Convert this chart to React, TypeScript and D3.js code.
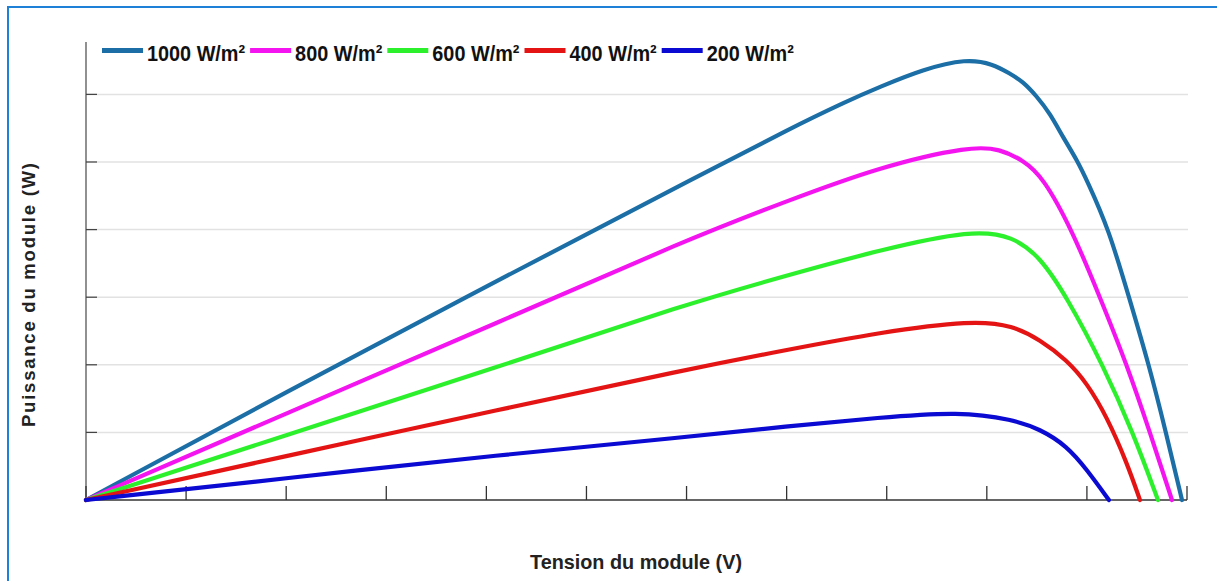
import React from "react";
import * as d3 from "d3";

// Irradiance levels shown in the legend
const irradianceLabels = ["1000 W/m²", "800 W/m²", "600 W/m²", "400 W/m²", "200 W/m²"];
const seriesColors = ["#1b6fa6", "#f414f0", "#2cf02c", "#e41414", "#0a0ad2"];

// Module voltage (V) and power (W) samples for each irradiance level
const voltage1000 = [0, 2.0, 4.14, 6.26, 7.0, 7.6, 7.93, 8.36, 8.8, 9.06, 9.23, 9.36, 9.5, 9.63, 9.76, 9.9, 10.0, 10.22, 10.42, 10.62, 10.79, 10.95];
const power1000 = [0, 1.6, 3.27, 4.9, 5.47, 5.9, 6.11, 6.37, 6.53, 6.45, 6.31, 6.19, 5.97, 5.72, 5.37, 5.03, 4.73, 4.0, 3.0, 2.0, 1.0, 0];

const voltage800 = [0, 2.0, 4.14, 6.0, 7.0, 7.93, 8.85, 9.13, 9.36, 9.56, 9.85, 10.13, 10.4, 10.63, 10.85];
const power800 = [0, 1.28, 2.64, 3.85, 4.42, 4.93, 5.24, 5.19, 5.03, 4.78, 4.0, 3.0, 2.0, 1.0, 0];

const voltage600 = [0, 2.0, 4.14, 6.0, 7.0, 7.93, 8.86, 9.26, 9.53, 9.8, 10.16, 10.46, 10.71];
const power600 = [0, 0.96, 1.98, 2.9, 3.32, 3.7, 4.0, 3.9, 3.6, 3.0, 2.0, 1.0, 0];

const voltage400 = [0, 2.0, 4.14, 6.0, 7.0, 7.93, 8.86, 9.26, 9.53, 9.8, 10.0, 10.2, 10.4, 10.53];
const power400 = [0, 0.65, 1.34, 1.93, 2.22, 2.48, 2.66, 2.58, 2.37, 2.07, 1.73, 1.23, 0.55, 0];

const voltage200 = [0, 2.0, 4.14, 6.0, 7.0, 7.93, 8.73, 9.26, 9.53, 9.8, 10.0, 10.22];
const power200 = [0, 0.32, 0.67, 0.93, 1.09, 1.22, 1.31, 1.19, 1.05, 0.8, 0.45, 0];

const voltageSeries = [voltage1000, voltage800, voltage600, voltage400, voltage200];
const powerSeries = [power1000, power800, power600, power400, power200];

// Axis ticks (unlabelled)
const xTickValues = [0, 1, 2, 3, 4, 5, 6, 7, 8, 9, 10, 11];
const yTickValues = [1, 2, 3, 4, 5, 6];

const W = 1217;
const H = 581;
const left = 86;
const right = 1187;
const bottom = 500;
const top = 42;

export default function App() {
  const x = d3.scaleLinear().domain([0, 11]).range([left, right]);
  const y = d3.scaleLinear().domain([0, 6.775]).range([bottom, top]);

  // B-spline keeps the measured curves smooth
  const line = d3
    .line<[number, number]>()
    .x((d) => x(d[0]))
    .y((d) => y(d[1]))
    .curve(d3.curveBasis);

  const series = voltageSeries.map((vs, i) =>
    vs.map((v, j) => [v, powerSeries[i][j]] as [number, number])
  );

  // Legend layout: swatch + label, laid out left to right
  const swatchLen = 41;
  const charW = 10.9;
  let cursor = 102;
  const legendItems = irradianceLabels.map((label, i) => {
    const item = { label, color: seriesColors[i], x: cursor, textW: label.length * charW };
    cursor += swatchLen + 4 + item.textW + 5;
    return item;
  });

  const narrow = "'Liberation Sans Narrow', 'Arial Narrow', 'Liberation Sans', Arial, sans-serif";

  return (
    <svg
      width={W}
      height={H}
      viewBox={`0 0 ${W} ${H}`}
      style={{ position: "absolute", left: 0, top: 0, background: "#fff" }}
    >
      {/* outer frame */}
      <rect x={8} y={7} width={W + 20} height={H + 20} fill="none" stroke="#1e80d6" strokeWidth={2} />

      {/* gridlines */}
      {yTickValues.map((t) => (
        <line key={`g${t}`} x1={left + 11} x2={right + 1} y1={y(t)} y2={y(t)} stroke="#e2e2e2" strokeWidth={1.5} />
      ))}

      {/* y axis and inward ticks */}
      <line x1={left} x2={left} y1={top} y2={bottom} stroke="#555" strokeWidth={1.3} />
      {yTickValues.map((t) => (
        <line key={`yt${t}`} x1={left} x2={left + 11} y1={y(t)} y2={y(t)} stroke="#444" strokeWidth={1.3} />
      ))}

      {/* x axis and inward ticks */}
      <line x1={left} x2={right} y1={bottom} y2={bottom} stroke="#333" strokeWidth={1.5} />
      {xTickValues.map((t) => (
        <line key={`xt${t}`} x1={x(t)} x2={x(t)} y1={bottom} y2={bottom - 14} stroke="#333" strokeWidth={1.3} />
      ))}

      {/* power curves */}
      {series.map((pts, i) => (
        <path
          key={`s${i}`}
          d={line(pts) || ""}
          fill="none"
          stroke={seriesColors[i]}
          strokeWidth={4.2}
          strokeLinecap="round"
          strokeLinejoin="round"
        />
      ))}

      {/* legend */}
      {legendItems.map((it) => (
        <g key={it.label}>
          <line x1={it.x} x2={it.x + swatchLen} y1={50.5} y2={50.5} stroke={it.color} strokeWidth={5} />
          <text
            x={it.x + swatchLen + 4}
            y={61}
            fontFamily={narrow}
            fontWeight="bold"
            fontSize={22}
            fill="#111"
            textLength={it.textW}
            lengthAdjust="spacingAndGlyphs"
          >
            {it.label}
          </text>
        </g>
      ))}

      {/* axis titles */}
      <text
        x={636}
        y={569}
        textAnchor="middle"
        fontFamily={narrow}
        fontWeight="bold"
        fontSize={21}
        fill="#222"
        textLength={212}
        lengthAdjust="spacingAndGlyphs"
      >
        Tension du module (V)
      </text>
      <text
        transform="translate(35,295) rotate(-90)"
        textAnchor="middle"
        fontFamily="'Liberation Sans', Arial, sans-serif"
        fontWeight="bold"
        fontSize={18.5}
        fill="#222"
        textLength={264}
        lengthAdjust="spacing"
      >
        Puissance du module (W)
      </text>
    </svg>
  );
}
